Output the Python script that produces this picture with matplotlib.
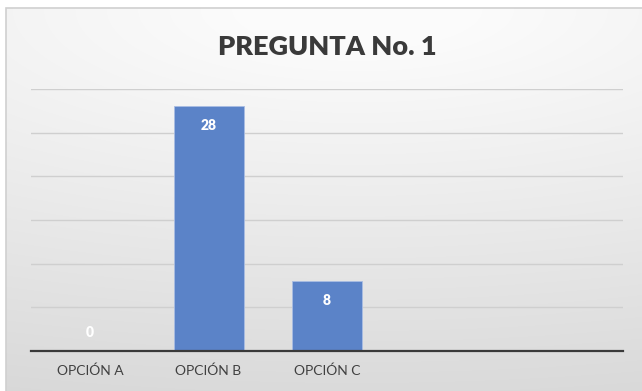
import matplotlib.pyplot as plt
import numpy as np
from matplotlib.patches import Rectangle

categories = ["OPCIÓN A", "OPCIÓN B", "OPCIÓN C"]
values = [0, 28, 8]
n_slots = 5  # chart reserves room for five categories
title = "PREGUNTA No. 1"

font = ["Lato", "DejaVu Sans"]
bar_color = "#5b83c8"
text_color = "#404040"

fig = plt.figure(figsize=(6.42, 3.91), dpi=100)
fig.patch.set_facecolor("white")

# chart area background: soft gradient, light at top, gray towards the bottom
W, H = 642, 391
bx0, by0, bx1, by1 = 6, 8, 645, 394
bg = fig.add_axes([bx0 / W, 1 - by1 / H, (bx1 - bx0) / W, (by1 - by0) / H])
yy, xx = np.mgrid[0:1:200j, 0:1:300j]
d = np.sqrt(((xx - 0.55) * 0.55) ** 2 + (yy - 0.0) ** 2)
shade = np.clip(1.0 - 0.145 * d, 0.845, 0.985)
img = np.dstack([shade, shade, shade])
bg.imshow(img, aspect="auto", extent=[0, 1, 1, 0], interpolation="bilinear")
bg.set_xlim(0, 1)
bg.set_ylim(1, 0)
bg.axis("off")
bg.add_patch(Rectangle((0, 0), 1, 1, fill=False, edgecolor="#d0d0d0",
                       linewidth=1.2, transform=bg.transAxes, clip_on=False))

ax = fig.add_axes([31 / W, 40 / H, 592 / W, 262 / H])
ax.patch.set_alpha(0)

x = np.arange(len(categories))
bars = ax.bar(x, values, width=0.59, color=bar_color, edgecolor="#a9bde3",
              linewidth=0.6, zorder=3)

for xi, v in zip(x, values):
    off = -14 if v > 0 else 13
    ax.annotate(str(v), (xi, v), xytext=(0, off), textcoords="offset points",
                ha="center", va="center", color="white", fontsize=10,
                fontweight="heavy", family=font, zorder=4)

ax.set_xlim(-0.5, n_slots - 0.5)
ax.set_ylim(0, 30)
ax.set_yticks(range(0, 31, 5))
ax.yaxis.grid(True, color="#cfcfcf", linewidth=1.0, zorder=0)
ax.tick_params(axis="y", left=False, labelleft=False)
ax.set_xticks(x)
ax.set_xticklabels(categories, fontsize=10, color=text_color, family=font)
ax.tick_params(axis="x", length=0, pad=10)
for side in ["top", "right", "left"]:
    ax.spines[side].set_visible(False)
ax.spines["bottom"].set_color("#3a3a3a")
ax.spines["bottom"].set_linewidth(1.6)
ax.spines["bottom"].set_zorder(5)

fig.text((31 + 592 / 2) / W, 1 - 47 / H, title, ha="center", va="center",
         fontsize=19.5, fontweight="heavy", color="#3a3a3a", family=font)

fig.savefig("out.png", dpi=100)
